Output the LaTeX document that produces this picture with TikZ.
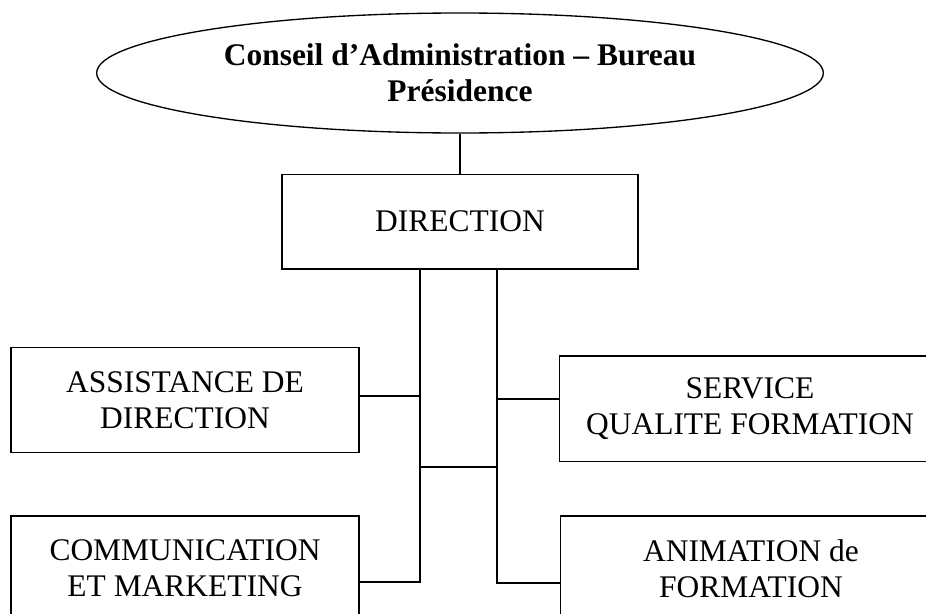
\documentclass[tikz,border=0pt]{standalone}
\usepackage{fontspec}
\setmainfont{Liberation Serif}
\usetikzlibrary{shapes.geometric}

\begin{document}
\begin{tikzpicture}[-,x=0.75pt,y=-0.75pt,line width=1pt,
    font=\fontsize{23.6}{27}\selectfont]
    \tikzset{service/.style={draw,rectangle,align=center,inner sep=0pt,
        minimum width=261pt,minimum height=79pt}}
    \clip (0,0) rectangle (926,614);

    \node[draw,ellipse,align=center,inner sep=0pt,minimum width=545pt,minimum height=90pt,
        font=\fontsize{23.6}{27}\selectfont\bfseries] (CA) at (460,73)
        {Conseil d’Administration – Bureau\\Présidence};
    \node[service,minimum width=267pt,minimum height=71pt] (D) at (460,221.5) {DIRECTION};
    \node[service] (AD) at (185,400) {ASSISTANCE DE\\DIRECTION};
    \node[service,minimum width=286pt] (SQ) at (750,408.5) {SERVICE\\QUALITE FORMATION};
    \node[service] (CM) at (185,568.5) {COMMUNICATION\\ET MARKETING};
    \node[service,minimum width=286pt] (AF) at (751,568.5) {ANIMATION de\\FORMATION};

    % junctions on the two vertical lines
    \coordinate (L1) at (420,396);
    \coordinate (L2) at (420,582);
    \coordinate (R1) at (497,399);
    \coordinate (R2) at (497,583);
    \coordinate (M) at (420,467);

    \path (CA) edge (D);
    \draw (D.south -| L2) -- (L2) -- (L2 -| CM.east);
    \draw (D.south -| R2) -- (R2) -- (R2 -| AF.west);
    \draw (L1 -| AD.east) -- (L1);
    \draw (R1) -- (R1 -| SQ.west);
    \draw (M) -- (M -| R1);
\end{tikzpicture}
\end{document}
